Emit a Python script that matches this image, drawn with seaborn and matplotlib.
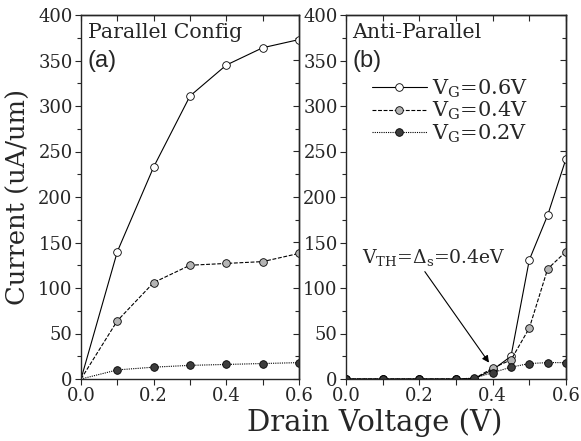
import numpy as np
import pandas as pd
import seaborn as sns
import matplotlib
matplotlib.use("Agg")
import matplotlib.pyplot as plt
from matplotlib.ticker import MultipleLocator

# ---------------- data ----------------
vd_par = [0.0, 0.1, 0.2, 0.3, 0.4, 0.5, 0.6]
par_06 = [0, 140, 233, 311, 345, 364, 373]
par_04 = [0, 64, 106, 125, 127, 129, 138]
par_02 = [0, 10, 13, 15, 16, 17, 18]

vd_anti = [0.0, 0.1, 0.2, 0.3, 0.35, 0.4, 0.45, 0.5, 0.55, 0.6]
anti_06 = [0, 0, 0, 0, 0.5, 10, 25, 131, 180, 242]
anti_04 = [0, 0, 0, 0, 0.5, 12, 21, 56, 121, 140]
anti_02 = [0, 0, 0, 0, 1, 7, 13, 17, 18, 18]

gate_labels = [r"$\mathrm{V_G}$=0.6V", r"$\mathrm{V_G}$=0.4V", r"$\mathrm{V_G}$=0.2V"]
panel_titles = ["Parallel Config", "Anti-Parallel"]
panel_tags = ["(a)", "(b)"]
xticks = [0.0, 0.2, 0.4, 0.6]
yticks = [0, 50, 100, 150, 200, 250, 300, 350, 400]

# ---------------- style ----------------
sns.set_style("ticks")
plt.rcParams["font.family"] = ["DejaVu Serif"]
plt.rcParams["mathtext.fontset"] = "dejavuserif"

styles = [
    dict(linestyle="-", markerfacecolor="white"),
    dict(linestyle=(0, (3.5, 1.5)), markerfacecolor="#b4b4b4"),
    dict(linestyle=(0, (1, 1)), markerfacecolor="#3c3c3c"),
]

fig = plt.figure(figsize=(5.81, 4.41), dpi=100)
W, H = 581, 441
bottom_px, top_px = 379, 15
ax_h = (bottom_px - top_px) / H
ax_b = (H - bottom_px) / H
axL = fig.add_axes([81 / W, ax_b, 218 / W, ax_h])
axR = fig.add_axes([346 / W, ax_b, 220 / W, ax_h])

panels = [
    (axL, vd_par, [par_06, par_04, par_02], slice(1, None)),
    (axR, vd_anti, [anti_06, anti_04, anti_02], slice(0, None)),
]

for idx, (ax, xs, series, mk) in enumerate(panels):
    for ys, st, lab in zip(series, styles, gate_labels):
        sns.lineplot(x=xs, y=ys, ax=ax, color="black", linewidth=0.8,
                     linestyle=st["linestyle"], marker="o", markersize=5.5,
                     markerfacecolor=st["markerfacecolor"],
                     markeredgecolor="black", markeredgewidth=0.6,
                     markevery=mk, label=lab if idx == 1 else None,
                     legend=False)
    ax.set_xlim(0, 0.6)
    ax.set_ylim(0, 400)
    ax.set_xticks(xticks)
    ax.set_yticks(yticks)
    ax.xaxis.set_minor_locator(MultipleLocator(0.1))
    ax.yaxis.set_minor_locator(MultipleLocator(25))
    ax.set_xticklabels([f"{v:.1f}" for v in xticks])
    ax.tick_params(axis="both", which="both", direction="out", labelsize=13,
                   width=0.8, pad=2)
    ax.tick_params(axis="both", which="major", length=4)
    ax.tick_params(axis="both", which="minor", length=4)
    ax.tick_params(axis="y", which="minor", length=3)
    sx = ax.secondary_xaxis("top")
    sx.set_xticks(xticks)
    sx.xaxis.set_minor_locator(MultipleLocator(0.1))
    sx.tick_params(which="both", direction="in", length=4, width=0.8, labeltop=False)
    sy = ax.secondary_yaxis("right")
    sy.set_yticks(yticks)
    sy.yaxis.set_minor_locator(MultipleLocator(25))
    sy.tick_params(which="major", direction="in", length=4, width=0.8, labelright=False)
    sy.tick_params(which="minor", direction="in", length=3, width=0.8, labelright=False)
    for sp in list(ax.spines.values()) + list(sx.spines.values()) + list(sy.spines.values()):
        sp.set_linewidth(1.0)
    ax.set_xlabel("")
    ax.set_ylabel("")
    ax.text(0.03, 0.978, panel_titles[idx], transform=ax.transAxes, fontsize=14.8,
            va="top", ha="left")
    ax.text(0.03, 0.905, panel_tags[idx], transform=ax.transAxes, fontsize=17,
            va="top", ha="left", family=["Liberation Sans", "DejaVu Sans"])

axL.set_ylabel("Current (uA/um)", fontsize=18.5, labelpad=5)
fig.text(375 / W, 0.01, "Drain Voltage (V)", fontsize=21, ha="center", va="bottom")

axR.legend(loc="upper left", bbox_to_anchor=(0.12, 0.828), frameon=False,
           fontsize=15, handlelength=2.6, handletextpad=0.25, labelspacing=0.0,
           borderaxespad=0, borderpad=0, numpoints=1)

axR.text(0.045, 127, r"$\mathrm{V_{TH}}$=$\Delta_\mathrm{s}$=0.4eV", fontsize=13.5,
         ha="left", va="baseline")
axR.annotate("", xy=(0.39, 18), xytext=(0.215, 118), textcoords="data",
             arrowprops=dict(arrowstyle="-|>", color="black", lw=0.8,
                             shrinkA=0, shrinkB=0, mutation_scale=10),
             annotation_clip=False)
fig.savefig("out.png", dpi=100)
